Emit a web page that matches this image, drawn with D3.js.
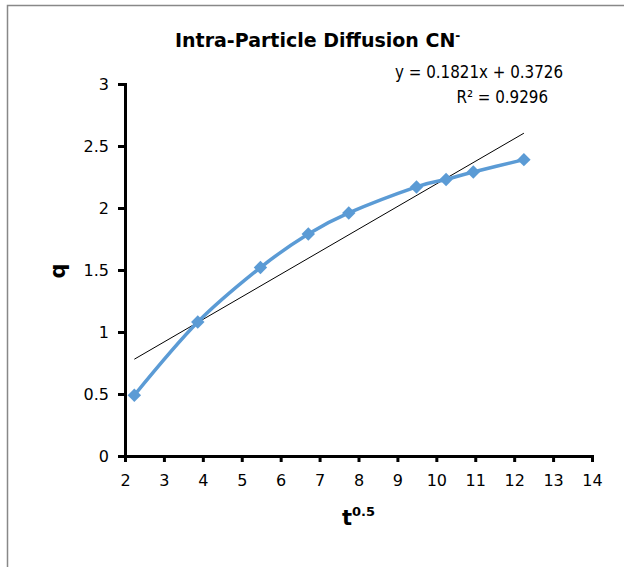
<!DOCTYPE html>
<html><head><meta charset="utf-8">
<script src="https://cdn.jsdelivr.net/npm/d3@7"></script>
<style>html,body{margin:0;padding:0;background:#fff;}svg{display:block;}</style>
</head><body>
<script>
// Data
const tSqrt = [2.24, 3.87, 5.48, 6.71, 7.75, 9.49, 10.25, 10.95, 12.25];
const qValues = [0.49, 1.08, 1.52, 1.79, 1.96, 2.17, 2.23, 2.29, 2.39];
const xTicks = [2,3,4,5,6,7,8,9,10,11,12,13,14];
const yTicks = [0,0.5,1,1.5,2,2.5,3];
const trendSlope = 0.1821, trendIntercept = 0.3726;
const eqLabel = "y = 0.1821x + 0.3726";
const r2Label = "R² = 0.9296";

const W = 624, H = 567;
const svg = d3.select("body").append("svg").attr("width", W).attr("height", H);

// outer chart border
svg.append("rect").attr("x", 7.5).attr("y", 5.5).attr("width", W + 10).attr("height", H + 10)
  .attr("fill", "none").attr("stroke", "#888").attr("stroke-width", 1.5);

const x = d3.scaleLinear().domain([2, 14]).range([125, 592]);
const y = d3.scaleLinear().domain([0, 3]).range([456, 84]);

const regFont = "'DejaVu Sans', sans-serif";

// axes
const xAxis = svg.append("g").attr("transform", `translate(0,${y(0)})`)
  .call(d3.axisBottom(x).tickValues(xTicks).tickSize(6).tickPadding(13).tickFormat(d3.format("d")));
const yAxis = svg.append("g").attr("transform", `translate(${x(2)},0)`)
  .call(d3.axisLeft(y).tickValues(yTicks).tickSize(7).tickPadding(9).tickFormat(d => d3.format("")(d)));
[xAxis, yAxis].forEach(g => {
  g.select(".domain").attr("stroke", "#000").attr("stroke-width", 3);
  g.selectAll(".tick line").attr("stroke", "#000").attr("stroke-width", 3);
  g.selectAll(".tick text").attr("fill", "#000").attr("font-family", regFont).attr("font-size", 16);
});

// trendline
const tx0 = d3.min(tSqrt), tx1 = d3.max(tSqrt);
svg.append("line")
  .attr("x1", x(tx0)).attr("y1", y(trendSlope * tx0 + trendIntercept))
  .attr("x2", x(tx1)).attr("y2", y(trendSlope * tx1 + trendIntercept))
  .attr("stroke", "#000").attr("stroke-width", 1);

// series line
const pts = tSqrt.map((v, i) => [v, qValues[i]]);
svg.append("path").datum(pts)
  .attr("d", d3.line().x(d => x(d[0])).y(d => y(d[1])).curve(d3.curveCatmullRom.alpha(0)))
  .attr("fill", "none").attr("stroke", "#5B9BD5").attr("stroke-width", 3.5);

// markers
svg.selectAll(".mk").data(pts).enter().append("path")
  .attr("d", d3.symbol().type(d3.symbolSquare).size(90))
  .attr("transform", d => `translate(${x(d[0])},${y(d[1])}) rotate(45)`)
  .attr("fill", "#5B9BD5");

// title
const title = svg.append("text").attr("x", 175).attr("y", 47)
  .attr("font-family", "'DejaVu Sans', sans-serif").attr("font-weight", "bold").attr("font-size", 19).attr("fill", "#000");
title.append("tspan").text("Intra-Particle Diffusion CN");
title.append("tspan").attr("font-size", 12).attr("dy", -7).text("-");

// equation
svg.append("text").attr("x", 563).attr("y", 78).attr("text-anchor", "end")
  .attr("font-family", "'DejaVu Sans Condensed', 'DejaVu Sans', sans-serif").attr("font-size", 16.8).attr("fill", "#000").text(eqLabel);
svg.append("text").attr("x", 548).attr("y", 103).attr("text-anchor", "end")
  .attr("font-family", "'DejaVu Sans Condensed', 'DejaVu Sans', sans-serif").attr("font-size", 16.8).attr("fill", "#000").text(r2Label);

// axis titles
svg.append("text").attr("transform", "translate(65,271) rotate(-90)").attr("text-anchor", "middle")
  .attr("font-family", "'DejaVu Sans', sans-serif").attr("font-weight", "bold").attr("font-size", 21).attr("fill", "#000").text("q");
const xt = svg.append("text").attr("x", 342).attr("y", 525)
  .attr("font-family", "'DejaVu Sans', sans-serif").attr("font-weight", "bold").attr("font-size", 21).attr("fill", "#000");
xt.append("tspan").text("t");
xt.append("tspan").attr("font-size", 13).attr("dy", -9).text("0.5");
</script>
</body></html>
